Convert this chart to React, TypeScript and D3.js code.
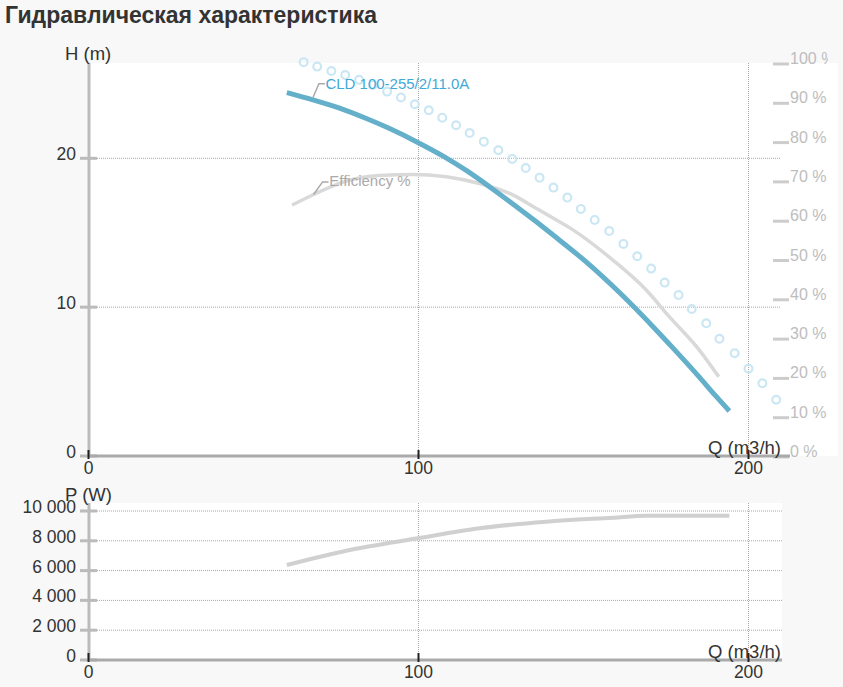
import React from "react";
import * as d3 from "d3";

const title = "Гидравлическая характеристика";
const pumpName = "CLD 100-255/2/11.0A";
const effLabel = "Efficiency %";

const qHead = [60.1, 68.0, 76.1, 84.2, 91.4, 99.5, 107.6, 114.7, 121.7, 128.8, 135.9, 140.7, 150.8, 160.9, 172.0, 177.0, 185.1, 190.2, 194.2];
const head = [24.42, 23.93, 23.37, 22.67, 21.98, 21.1, 20.13, 19.15, 18.06, 16.9, 15.7, 14.86, 13.04, 10.98, 8.47, 7.28, 5.3, 4.0, 3.02];

const qEff = [61.7, 68.2, 78.1, 88.2, 98.3, 108.4, 118.5, 128.6, 135.6, 139.7, 146.8, 158.9, 169.0, 176.0, 185.1, 191.0];
const eff = [64.1, 66.8, 70.2, 71.6, 71.9, 71.3, 69.6, 66.7, 63.3, 61.3, 57.8, 50.1, 42.5, 35.7, 27.2, 20.4];

const qMax = [65.2, 69.3, 73.6, 77.8, 82.0, 86.2, 90.5, 94.7, 98.9, 103.1, 107.2, 111.4, 115.5, 119.8, 124.2, 128.4, 132.5, 136.7, 140.9, 145.1, 149.2, 153.4, 157.8, 162.1, 166.3, 170.5, 174.6, 178.8, 182.8, 187.2, 191.2, 195.8, 200.0, 204.2, 208.4];
const hMax = [26.46, 26.16, 25.87, 25.6, 25.27, 24.93, 24.48, 24.08, 23.63, 23.23, 22.73, 22.22, 21.7, 21.12, 20.54, 19.96, 19.35, 18.7, 18.03, 17.36, 16.6, 15.86, 15.12, 14.25, 13.42, 12.59, 11.65, 10.82, 9.88, 8.92, 7.88, 6.9, 5.87, 4.89, 3.78];

const qPow = [60.1, 78.1, 99.8, 118.5, 138.7, 158.9, 169.0, 194.2];
const power = [6376, 7336, 8168, 8839, 9282, 9550, 9680, 9680];

const qTicks = [0, 100, 200];
const hTicks = [0, 10, 20];
const effTicks = [0, 10, 20, 30, 40, 50, 60, 70, 80, 90, 100];
const pTicks = [0, 2000, 4000, 6000, 8000, 10000];

const FONT = "'Liberation Sans', Arial, Helvetica, sans-serif";
const fmtP = (v: number) => (v >= 1000 ? d3.format(",")(v).replace(/,/g, " ") : String(v));

export default function App() {
  const x = d3.scaleLinear().domain([0, 200]).range([88.5, 748.5]);
  const yH = d3.scaleLinear().domain([0, 20]).range([456, 158.3]);
  const yE = d3.scaleLinear().domain([0, 100]).range([457, 64]);
  const yP = d3.scaleLinear().domain([0, 10000]).range([660, 511]);

  const topY0 = 63, topY1 = 456, bTop = 503, bBot = 660;
  const plotL = 89, topR = 838, gridR = 780, bR = 782;

  const headLine = d3.line<number>().x((d, i) => x(qHead[i])).y((d) => yH(d)).curve(d3.curveMonotoneX);
  const effLine = d3.line<number>().x((d, i) => x(qEff[i])).y((d) => yE(d)).curve(d3.curveMonotoneX);
  const powLine = d3.line<number>().x((d, i) => x(qPow[i])).y((d) => yP(d)).curve(d3.curveMonotoneX);

  const hAnchor = [x(qHead[1]), yH(head[1])];
  const eAnchor = [x(qEff[1]), yE(eff[1])];

  const grid = { stroke: "#a8a8a8", strokeWidth: 1, strokeDasharray: "1,1" };
  const tickFs = 17.5;
  const titleFs = 18.5;

  return (
    <svg width={843} height={687} style={{ position: "absolute", left: 0, top: 0, fontFamily: FONT }}>
      <defs>
        <clipPath id="rclip">
          <rect x={0} y={0} width={828} height={687} />
        </clipPath>
      </defs>
      <rect x={0} y={0} width={843} height={687} fill="#f8f8f8" />
      <text x={5} y={23} fontSize={23} fontWeight="bold" fill="#333">{title}</text>

      {/* top chart */}
      <rect x={plotL} y={topY0} width={topR - plotL} height={topY1 - topY0} fill="#ffffff" />
      {hTicks.filter((t) => t > 0).map((t) => (
        <line key={"hg" + t} x1={plotL} x2={gridR} y1={yH(t)} y2={yH(t)} {...grid} />
      ))}
      {qTicks.filter((t) => t > 0).map((t) => (
        <line key={"vg" + t} x1={x(t)} x2={x(t)} y1={topY0} y2={topY1} {...grid} />
      ))}

      <path d={effLine(eff) || ""} fill="none" stroke="#d9d9d9" strokeWidth={3.5} />
      {hMax.map((h, i) => (
        <circle key={"c" + i} cx={x(qMax[i])} cy={yH(h)} r={3.9} fill="none" stroke="#cbe7f4" strokeWidth={2.2} />
      ))}
      <path d={headLine(head) || ""} fill="none" stroke="#64afca" strokeWidth={5} />

      <polyline points={`${hAnchor[0]},${hAnchor[1] - 2} ${hAnchor[0] + 6},${hAnchor[1] - 16} ${hAnchor[0] + 12},${hAnchor[1] - 16}`} fill="none" stroke="#aaaaaa" strokeWidth={1.5} />
      <text x={hAnchor[0] + 12.5} y={hAnchor[1] - 11.2} fontSize={15} fill="#3fa9d8">{pumpName}</text>
      <polyline points={`${eAnchor[0]},${eAnchor[1]} ${eAnchor[0] + 9},${eAnchor[1] - 12.6} ${eAnchor[0] + 15},${eAnchor[1] - 12.6}`} fill="none" stroke="#aaaaaa" strokeWidth={1.5} />
      <text x={eAnchor[0] + 15.7} y={eAnchor[1] - 8.8} fontSize={15} fill="#aaaaaa">{effLabel}</text>

      {/* left axis top */}
      <line x1={plotL} x2={plotL} y1={topY0} y2={topY1} stroke="#bbbbbb" strokeWidth={3} />
      {hTicks.map((t) => (
        <g key={"ht" + t}>
          <line x1={80} x2={97} y1={yH(t)} y2={yH(t)} stroke="#bbbbbb" strokeWidth={3} />
          <text x={76} y={yH(t) + 1.5} fontSize={tickFs} textAnchor="end" fill="#333">{t}</text>
        </g>
      ))}
      <text x={65} y={60} fontSize={titleFs} fill="#333">H (m)</text>

      {/* right axis */}
      <g clipPath="url(#rclip)">
        {effTicks.map((t) => (
          <g key={"et" + t}>
            <line x1={773} x2={789} y1={yE(t)} y2={yE(t)} stroke="#cccccc" strokeWidth={3} />
            <text x={790} y={yE(t)} fontSize={16} fill="#bdbdbd">{t + " %"}</text>
          </g>
        ))}
      </g>

      {/* x axis top */}
      <line x1={plotL} x2={790} y1={topY1} y2={topY1} stroke="#aaaaaa" strokeWidth={3} />
      {qTicks.map((t) => (
        <g key={"qt" + t}>
          <line x1={x(t)} x2={x(t)} y1={450} y2={459} stroke="#222" strokeWidth={2} />
          <text x={x(t)} y={474} fontSize={tickFs} textAnchor="middle" fill="#333">{t}</text>
        </g>
      ))}
      <text x={781} y={454} fontSize={titleFs} textAnchor="end" fill="#333">Q (m3/h)</text>

      {/* bottom chart */}
      <rect x={plotL} y={bTop} width={bR - plotL} height={bBot - bTop} fill="#ffffff" />
      {pTicks.filter((t) => t > 0).map((t) => (
        <line key={"pg" + t} x1={plotL} x2={bR} y1={yP(t)} y2={yP(t)} {...grid} />
      ))}
      {qTicks.filter((t) => t > 0).map((t) => (
        <line key={"bvg" + t} x1={x(t)} x2={x(t)} y1={bTop} y2={bBot} {...grid} />
      ))}
      <path d={powLine(power) || ""} fill="none" stroke="#d0d0d0" strokeWidth={4} />

      <line x1={plotL} x2={plotL} y1={bTop} y2={bBot} stroke="#bbbbbb" strokeWidth={3} />
      {pTicks.map((t) => (
        <g key={"pt" + t}>
          <line x1={80} x2={97} y1={yP(t)} y2={yP(t)} stroke="#bbbbbb" strokeWidth={3} />
          <text x={76} y={yP(t) + 2} fontSize={tickFs} textAnchor="end" fill="#333">{fmtP(t)}</text>
        </g>
      ))}
      <text x={65} y={501} fontSize={titleFs} fill="#333">P (W)</text>

      <line x1={plotL} x2={bR} y1={bBot} y2={bBot} stroke="#aaaaaa" strokeWidth={3} />
      {qTicks.map((t) => (
        <g key={"bqt" + t}>
          <line x1={x(t)} x2={x(t)} y1={653} y2={662} stroke="#222" strokeWidth={2} />
          <text x={x(t)} y={678} fontSize={tickFs} textAnchor="middle" fill="#333">{t}</text>
        </g>
      ))}
      <text x={781} y={658} fontSize={titleFs} textAnchor="end" fill="#333">Q (m3/h)</text>
    </svg>
  );
}
